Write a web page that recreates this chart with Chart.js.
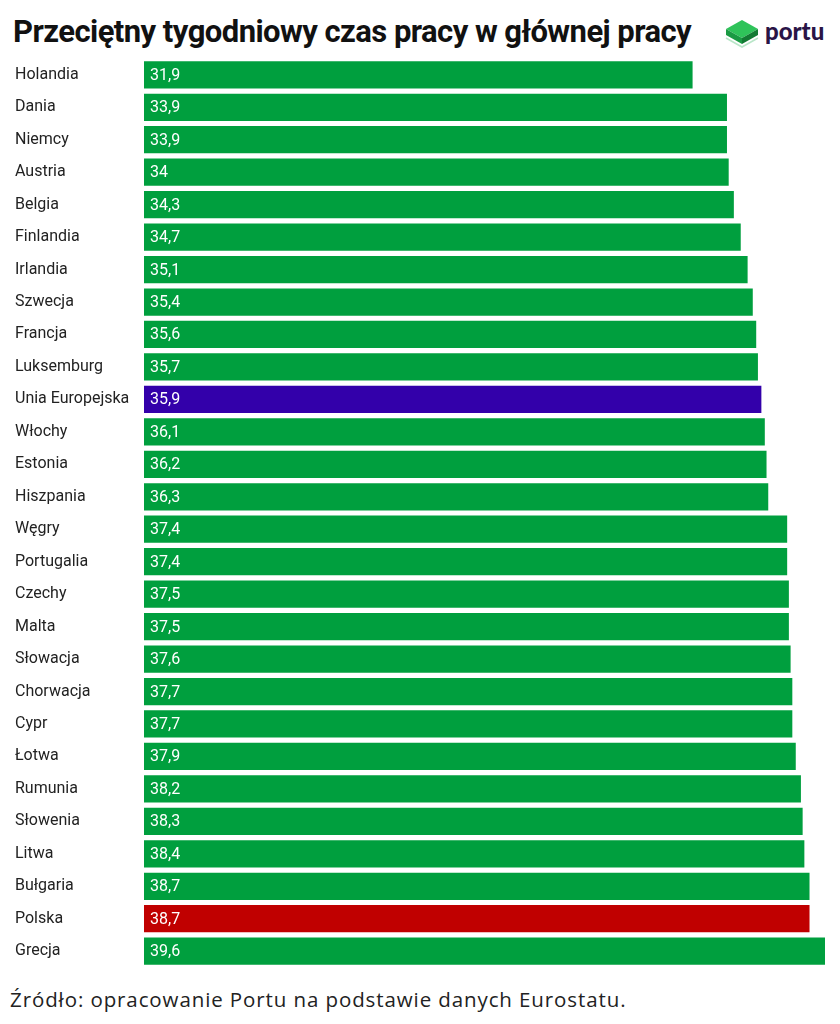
<!DOCTYPE html>
<html>
<head>
<meta charset="utf-8">
<script src="https://cdn.jsdelivr.net/npm/chart.js@4"></script>
<style>
  body { margin: 0; background: #fff; width: 840px; height: 1024px; position: relative; overflow: hidden; }
  #title { position: absolute; left: 13px; top: 13px; font-family: Roboto, sans-serif; font-weight: 700; font-size: 31px; color: #111; letter-spacing: -0.55px; white-space: nowrap; }
  #logo { position: absolute; left: 722px; top: 13px; }
  #wrap { position: absolute; left: 0; top: 49px; width: 840px; height: 928px; }
  #source { position: absolute; left: 10px; top: 985px; font-family: "Open Sans", sans-serif; font-size: 20.5px; letter-spacing: 0.9px; color: #222; white-space: nowrap; }
</style>
</head>
<body>
<div id="title">Przeciętny tygodniowy czas pracy w głównej pracy</div>
<svg id="logo" width="115" height="44" viewBox="0 0 115 44">
  <path d="M4 25 L20 34 L36 25" fill="none" stroke="#b9e6c8" stroke-width="1.6"/>
  <path d="M4 16 L20 7 L36 16 L20 25 Z" fill="#2fc35a"/>
  <path d="M4 16 L20 25 L20 31 L4 22 Z" fill="#1a9a43"/>
  <path d="M36 16 L20 25 L20 31 L36 22 Z" fill="#127a33"/>
  <text x="43" y="27" font-family="Lato, sans-serif" font-weight="900" font-size="24" fill="#2a1446">portu</text>
</svg>
<div id="wrap"><canvas id="chart"></canvas></div>
<div id="source">Źródło: opracowanie Portu na podstawie danych Eurostatu.</div>
<script>
const countries = ['Holandia','Dania','Niemcy','Austria','Belgia','Finlandia','Irlandia','Szwecja','Francja','Luksemburg','Unia Europejska','Włochy','Estonia','Hiszpania','Węgry','Portugalia','Czechy','Malta','Słowacja','Chorwacja','Cypr','Łotwa','Rumunia','Słowenia','Litwa','Bułgaria','Polska','Grecja'];
const hours = [31.9,33.9,33.9,34,34.3,34.7,35.1,35.4,35.6,35.7,35.9,36.1,36.2,36.3,37.4,37.4,37.5,37.5,37.6,37.7,37.7,37.9,38.2,38.3,38.4,38.7,38.7,39.6];

const GREEN = '#009f3e', PURPLE = '#3300aa', RED = '#c00000';
const barColors = countries.map(c => c === 'Unia Europejska' ? PURPLE : (c === 'Polska' ? RED : GREEN));

// values written inside the bars, near the start
const valueLabels = {
  id: 'valueLabels',
  afterDatasetsDraw(chart) {
    const ctx = chart.ctx;
    const meta = chart.getDatasetMeta(0);
    ctx.save();
    ctx.fillStyle = '#fff';
    ctx.font = '16px Roboto, sans-serif';
    ctx.textBaseline = 'middle';
    meta.data.forEach((bar, i) => {
      const txt = String(hours[i]).replace('.', ',');
      ctx.fillText(txt, bar.base + 6, bar.y + 1);
    });
    ctx.restore();
  }
};

new Chart(document.getElementById('chart'), {
  type: 'bar',
  data: {
    labels: countries,
    datasets: [{ data: hours, backgroundColor: barColors, barPercentage: 0.84, categoryPercentage: 1 }]
  },
  options: {
    indexAxis: 'y',
    responsive: true,
    maintainAspectRatio: false,
    animation: false,
    layout: { padding: { left: 15, right: 15, top: 0, bottom: 0 } },
    plugins: { legend: { display: false }, tooltip: { enabled: false } },
    scales: {
      x: { min: 0, max: 39.6, display: false, grid: { display: false } },
      y: {
        grid: { display: false },
        border: { display: false },
        ticks: { color: '#222', font: { family: 'Roboto, sans-serif', size: 16 }, crossAlign: 'far', padding: 0 },
        afterFit(scale) { scale.width = 129; }
      }
    }
  },
  plugins: [valueLabels]
});
</script>
</body>
</html>
